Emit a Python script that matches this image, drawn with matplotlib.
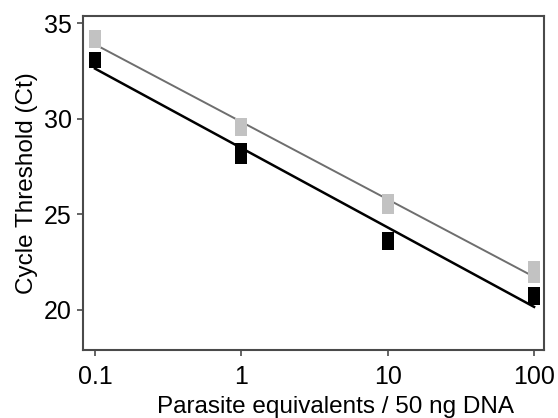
import numpy as np
import matplotlib
matplotlib.use("Agg")
import matplotlib.pyplot as plt

plt.rcParams["font.family"] = ["Liberation Sans", "DejaVu Sans"]

# ---------- datos (réplicas) ----------
parasite_eq = [0.1, 0.1, 1, 1, 10, 10, 100, 100]
ct_gray = [34.3, 34.0, 29.7, 29.4, 25.75, 25.35, 22.25, 21.7]
ct_black = [33.15, 32.95, 28.4, 27.95, 23.75, 23.45, 20.9, 20.55]

xticks = [0.1, 1, 10, 100]
xtick_labels = ["0.1", "1", "10", "100"]
yticks = [20, 25, 30, 35]

GRAY_MK = "#c2c2c2"
GRAY_LN = "#6e6e6e"
SPINE = "#4a4a4a"

fig = plt.figure(figsize=(5.58, 4.18), dpi=100)
ax = fig.add_axes([0.1487, 0.1627, 0.8263, 0.799])

# rectas de regresión (Ct vs log10)
lx = np.log10(parasite_eq)
xs = np.array([0.1, 100])
for ct, col, lw in [(ct_gray, GRAY_LN, 1.4), (ct_black, "black", 1.8)]:
    m, b = np.polyfit(lx, ct, 1)
    ax.plot(xs, m * np.log10(xs) + b, color=col, lw=lw, zorder=2)

ax.scatter(parasite_eq, ct_gray, marker="s", s=80, color=GRAY_MK, linewidths=0, zorder=3)
ax.scatter(parasite_eq, ct_black, marker="s", s=80, color="black", linewidths=0, zorder=3)

ax.set_xscale("log")
ax.set_xlim(0.0828, 117)
ax.set_ylim(17.9, 35.37)
ax.set_xticks(xticks)
ax.set_xticklabels(xtick_labels)
ax.minorticks_off()
ax.set_yticks(yticks)

for s in ax.spines.values():
    s.set_color(SPINE)
    s.set_linewidth(1.5)
ax.tick_params(direction="out", length=4, width=1.2, color=SPINE, labelsize=18, pad=4)
ax.tick_params(axis="x", pad=7)

ax.set_xlabel("Parasite equivalents / 50 ng DNA", fontsize=17.5, labelpad=5)
ax.xaxis.label.set_x(0.548)
ax.set_ylabel("Cycle Threshold (Ct)", fontsize=17.5, labelpad=4)

fig.savefig("out.png", dpi=100)
